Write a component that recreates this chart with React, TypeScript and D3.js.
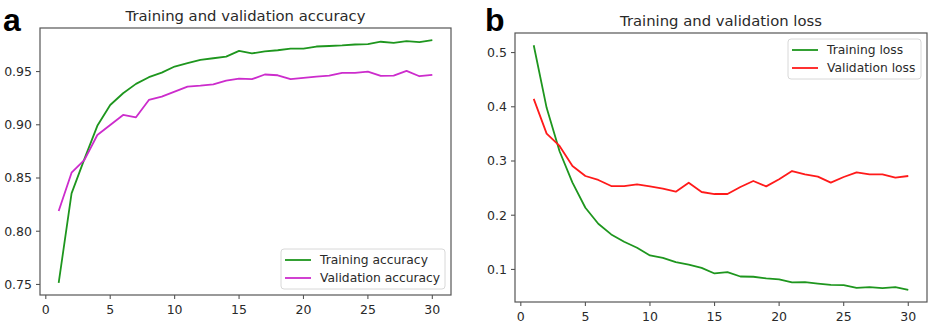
import React, { useEffect, useRef } from "react";
import * as d3 from "d3";

// epochs 1..30
const epochs = d3.range(1, 31);

const trainAcc = [
  0.7515, 0.8355, 0.868, 0.899, 0.9186, 0.9296, 0.9384, 0.9447, 0.949, 0.9547,
  0.9578, 0.961, 0.9625, 0.964, 0.9694, 0.967, 0.969, 0.970, 0.9716, 0.9716,
  0.9735, 0.974, 0.9745, 0.9754, 0.9757, 0.978, 0.977, 0.9785, 0.9776, 0.9795,
];
const valAcc = [
  0.819, 0.855, 0.867, 0.8904, 0.8998, 0.9092, 0.907, 0.9233, 0.9265, 0.9312,
  0.9359, 0.9368, 0.938, 0.9415, 0.9434, 0.9428, 0.9472, 0.9465, 0.9428, 0.944,
  0.9453, 0.9462, 0.9487, 0.9487, 0.95, 0.9459, 0.9462, 0.9506, 0.9456, 0.9469,
];
const trainLoss = [
  0.5135, 0.398, 0.318, 0.26, 0.2138, 0.1843, 0.1646, 0.151, 0.14, 0.1258,
  0.1215, 0.1135, 0.109, 0.103, 0.0926, 0.095, 0.087, 0.0865, 0.0834, 0.0815,
  0.076, 0.0766, 0.074, 0.0717, 0.071, 0.066, 0.0674, 0.0655, 0.0674, 0.0625,
];
const valLoss = [
  0.4145, 0.3505, 0.3277, 0.2908, 0.2723, 0.265, 0.2538, 0.2538, 0.2569, 0.2532,
  0.249, 0.2434, 0.26, 0.2428, 0.2391, 0.2391, 0.252, 0.2631, 0.2532, 0.2662,
  0.2815, 0.2754, 0.2711, 0.26, 0.2705, 0.2791, 0.2754, 0.2754, 0.2692, 0.2723,
];

const xTicks = [0, 5, 10, 15, 20, 25, 30];
const accTicks = [0.75, 0.8, 0.85, 0.9, 0.95];
const lossTicks = [0.1, 0.2, 0.3, 0.4, 0.5];

const GREEN = "#1e961e";
const MAGENTA = "#cc2ccc";
const RED = "#ff1a1a";
const AXIS = "#555";
const TEXT = "#2a2a2a";
const FONT = "'DejaVu Sans', sans-serif";

type Series = { name: string; values: number[]; color: string };

type PanelOpts = {
  box: { x0: number; x1: number; y0: number; y1: number };
  title: string;
  letter: string;
  letterPos: [number, number];
  series: Series[];
  yTicks: number[];
  yFormat: (v: number) => string;
  legend: { x: number; y: number; w: number; h: number };
};

function drawPanel(svg: d3.Selection<SVGSVGElement, unknown, null, undefined>, o: PanelOpts) {
  const { box } = o;
  const g = svg.append("g");

  // matplotlib default: 5% margins around the data
  const allY = o.series.flatMap(s => s.values);
  const yMin = d3.min(allY) as number;
  const yMax = d3.max(allY) as number;
  const yPad = (yMax - yMin) * 0.05;
  const xPad = (30 - 1) * 0.05;

  const x = d3.scaleLinear().domain([1 - xPad, 30 + xPad]).range([box.x0, box.x1]);
  const y = d3.scaleLinear().domain([yMin - yPad, yMax + yPad]).range([box.y1, box.y0]);

  // data lines
  const line = d3.line<number>()
    .x((_, i) => x(epochs[i]))
    .y(d => y(d));

  o.series.forEach(s => {
    g.append("path")
      .datum(s.values)
      .attr("d", line)
      .attr("fill", "none")
      .attr("stroke", s.color)
      .attr("stroke-width", 1.8)
      .attr("stroke-linejoin", "round");
  });

  // frame
  g.append("rect")
    .attr("x", box.x0)
    .attr("y", box.y0)
    .attr("width", box.x1 - box.x0)
    .attr("height", box.y1 - box.y0)
    .attr("fill", "none")
    .attr("stroke", AXIS)
    .attr("stroke-width", 1.2);

  // x ticks
  const xg = g.append("g");
  xTicks.forEach(t => {
    xg.append("line")
      .attr("x1", x(t)).attr("x2", x(t))
      .attr("y1", box.y1).attr("y2", box.y1 + 4)
      .attr("stroke", AXIS).attr("stroke-width", 1.1);
    xg.append("text")
      .attr("x", x(t))
      .attr("y", box.y1 + 19)
      .attr("text-anchor", "middle")
      .attr("font-family", FONT)
      .attr("font-size", 12.5)
      .attr("fill", TEXT)
      .text(t);
  });

  // y ticks
  const yg = g.append("g");
  o.yTicks.forEach(t => {
    yg.append("line")
      .attr("x1", box.x0 - 4).attr("x2", box.x0)
      .attr("y1", y(t)).attr("y2", y(t))
      .attr("stroke", AXIS).attr("stroke-width", 1.1);
    yg.append("text")
      .attr("x", box.x0 - 8)
      .attr("y", y(t))
      .attr("dy", "0.35em")
      .attr("text-anchor", "end")
      .attr("font-family", FONT)
      .attr("font-size", 12.5)
      .attr("fill", TEXT)
      .text(o.yFormat(t));
  });

  // title
  g.append("text")
    .attr("x", (box.x0 + box.x1) / 2)
    .attr("y", box.y0 - 7)
    .attr("text-anchor", "middle")
    .attr("font-family", FONT)
    .attr("font-size", 14.8)
    .attr("fill", TEXT)
    .text(o.title);

  // panel letter
  g.append("text")
    .attr("x", o.letterPos[0])
    .attr("y", o.letterPos[1])
    .attr("font-family", "'Liberation Sans', Arial, sans-serif")
    .attr("font-weight", "bold")
    .attr("font-size", 32)
    .attr("fill", "#000")
    .text(o.letter);

  // legend
  const L = o.legend;
  const lg = g.append("g").attr("transform", `translate(${L.x},${L.y})`);
  lg.append("rect")
    .attr("width", L.w)
    .attr("height", L.h)
    .attr("rx", 3)
    .attr("fill", "white")
    .attr("fill-opacity", 0.8)
    .attr("stroke", "#d8d8d8");
  o.series.forEach((s, i) => {
    const cy = 11 + i * 18;
    lg.append("line")
      .attr("x1", 4).attr("x2", 30)
      .attr("y1", cy).attr("y2", cy)
      .attr("stroke", s.color)
      .attr("stroke-width", 1.8);
    lg.append("text")
      .attr("x", 39)
      .attr("y", cy)
      .attr("dy", "0.35em")
      .attr("font-family", FONT)
      .attr("font-size", 12.3)
      .attr("fill", TEXT)
      .text(s.name);
  });
}

export default function App() {
  const ref = useRef<SVGSVGElement>(null);

  useEffect(() => {
    const svg = d3.select(ref.current as SVGSVGElement);
    svg.selectAll("*").remove();

    drawPanel(svg, {
      box: { x0: 40, x1: 451, y0: 28, y1: 295 },
      title: "Training and validation accuracy",
      letter: "a",
      letterPos: [3, 31],
      series: [
        { name: "Training accuracy", values: trainAcc, color: GREEN },
        { name: "Validation accuracy", values: valAcc, color: MAGENTA },
      ],
      yTicks: accTicks,
      yFormat: d3.format(".2f"),
      legend: { x: 281, y: 249, w: 164, h: 40 },
    });

    drawPanel(svg, {
      box: { x0: 515, x1: 927, y0: 33, y1: 302 },
      title: "Training and validation loss",
      letter: "b",
      letterPos: [485, 31],
      series: [
        { name: "Training loss", values: trainLoss, color: GREEN },
        { name: "Validation loss", values: valLoss, color: RED },
      ],
      yTicks: lossTicks,
      yFormat: d3.format(".1f"),
      legend: { x: 788, y: 39, w: 133, h: 40 },
    });
  }, []);

  return (
    <div style={{ position: "absolute", left: 0, top: 0 }}>
      <svg ref={ref} width={929} height={324} style={{ display: "block", background: "white" }} />
    </div>
  );
}
